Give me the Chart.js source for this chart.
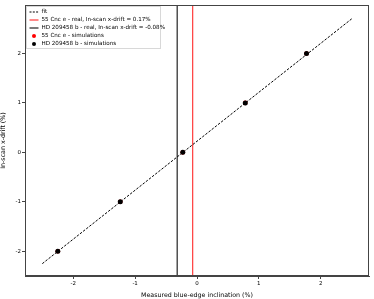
<!DOCTYPE html>
<html>
<head>
<meta charset="utf-8">
<script src="https://cdn.jsdelivr.net/npm/chart.js@4/dist/chart.umd.min.js"></script>
<style>
  html, body { margin: 0; padding: 0; background: #fff; }
  canvas { display: block; }
</style>
</head>
<body>
<canvas id="c" width="374" height="299"></canvas>
<script>
// --- Data ---
const simDrift = [-2, -1, 0, 1, 2];                        // In-scan x-drift (%)
const simInclination = [-2.25, -1.24, -0.23, 0.78, 1.77];  // measured blue-edge inclination (%)
const fitX = [-2.5, 2.5];
const fitY = [-2.25, 2.70];
const cncReal = -0.07;   // 55 Cnc e - real
const hdReal = -0.32;    // HD 209458 b - real
const xTicks = [-2, -1, 0, 1, 2];
const yTicks = [-2, -1, 0, 1, 2];
const xRange = [-2.78, 2.78];
const yRange = [-2.5, 2.98];

const legendItems = [
    { text: 'fit', kind: 'dash', color: '#000' },
    { text: '55 Cnc e - real, In-scan x-drift = 0.17%', kind: 'line', color: '#ff3b3b' },
    { text: 'HD 209458 b - real, In-scan x-drift = -0.08%', kind: 'line', color: '#222' },
    { text: '55 Cnc e - simulations', kind: 'dot', color: '#ff0000' },
    { text: 'HD 209458 b - simulations', kind: 'dot', color: '#000' }
];

const FONT = "'DejaVu Sans', sans-serif";

const pts = (xs, ys) => xs.map((x, i) => ({ x: x, y: ys[i] }));

// frame + legend drawn inside the plot area, matplotlib style
const framePlugin = {
    id: 'frame',
    afterDraw(chart) {
        const { ctx, chartArea: a } = chart;
        ctx.save();
        ctx.strokeStyle = '#444';
        ctx.lineWidth = 1;
        ctx.strokeRect(a.left + 0.5, a.top + 0.5, a.right - a.left - 1, a.bottom - a.top - 1);

        // legend
        const bx = a.left + 1.5, by = a.top + 1.5, bw = 134, bh = 42;
        ctx.fillStyle = 'rgba(255,255,255,0.85)';
        ctx.strokeStyle = '#d8d8d8';
        ctx.fillRect(bx, by, bw, bh);
        ctx.strokeRect(bx, by, bw, bh);
        ctx.font = '5.6px ' + FONT;
        ctx.textBaseline = 'middle';
        legendItems.forEach((it, i) => {
            const y = by + 5.5 + i * 8;
            const x0 = bx + 3;
            ctx.strokeStyle = it.color;
            ctx.fillStyle = it.color;
            if (it.kind === 'dash') {
                ctx.lineWidth = 1;
                ctx.setLineDash([2, 1.3]);
                ctx.beginPath(); ctx.moveTo(x0, y); ctx.lineTo(x0 + 9, y); ctx.stroke();
                ctx.setLineDash([]);
            } else if (it.kind === 'line') {
                ctx.lineWidth = 1.2;
                ctx.beginPath(); ctx.moveTo(x0, y); ctx.lineTo(x0 + 9, y); ctx.stroke();
            } else {
                ctx.beginPath(); ctx.arc(x0 + 4.5, y, 2, 0, Math.PI * 2); ctx.fill();
            }
            ctx.fillStyle = '#000';
            ctx.fillText(it.text, x0 + 12, y);
        });
        ctx.restore();
    }
};

const tickFont = { family: FONT, size: 5.5 };
const titleFont = { family: FONT, size: 6.3 };

new Chart(document.getElementById('c'), {
    type: 'scatter',
    data: {
        datasets: [
            {
                label: 'fit', type: 'line', data: pts(fitX, fitY),
                borderColor: '#000', borderWidth: 1, borderDash: [2.5, 1.5],
                pointRadius: 0, fill: false, order: 3
            },
            {
                label: '55 Cnc e - real', type: 'line',
                data: [{ x: cncReal, y: yRange[0] }, { x: cncReal, y: yRange[1] }],
                borderColor: '#ff3b3b', borderWidth: 1.2, pointRadius: 0, order: 4
            },
            {
                label: 'HD 209458 b - real', type: 'line',
                data: [{ x: hdReal, y: yRange[0] }, { x: hdReal, y: yRange[1] }],
                borderColor: '#333', borderWidth: 1.3, pointRadius: 0, order: 4
            },
            {
                label: '55 Cnc e - simulations', data: pts(simInclination, simDrift),
                backgroundColor: '#ff0000', borderWidth: 0, pointRadius: 2.3, order: 2
            },
            {
                label: 'HD 209458 b - simulations', data: pts(simInclination, simDrift),
                backgroundColor: '#000', borderWidth: 0, pointRadius: 2.5, order: 1
            }
        ]
    },
    options: {
        responsive: false,
        animation: false,
        layout: { padding: { top: 5, right: 5, left: 0, bottom: 0 } },
        plugins: { legend: { display: false }, tooltip: { enabled: false } },
        scales: {
            x: {
                type: 'linear', min: xRange[0], max: xRange[1],
                afterBuildTicks: s => { s.ticks = xTicks.map(v => ({ value: v })); },
                afterFit: s => { s.height = 23; },
                grid: { drawOnChartArea: false, drawTicks: true, tickLength: 3, color: '#444' },
                border: { display: true, color: '#444' },
                ticks: { font: tickFont, color: '#000', padding: 1, maxRotation: 0 },
                title: { display: true, text: 'Measured blue-edge inclination (%)', font: titleFont, color: '#000', padding: { top: 2, bottom: 0 } }
            },
            y: {
                type: 'linear', min: yRange[0], max: yRange[1],
                afterBuildTicks: s => { s.ticks = yTicks.map(v => ({ value: v })); },
                afterFit: s => { s.width = 25; },
                grid: { drawOnChartArea: false, drawTicks: true, tickLength: 3, color: '#444' },
                border: { display: true, color: '#444' },
                ticks: { font: tickFont, color: '#000', padding: 1 },
                title: { display: true, text: 'In-scan x-drift (%)', font: titleFont, color: '#000', padding: { top: 0, bottom: 2 } }
            }
        }
    },
    plugins: [framePlugin]
});
</script>
</body>
</html>
